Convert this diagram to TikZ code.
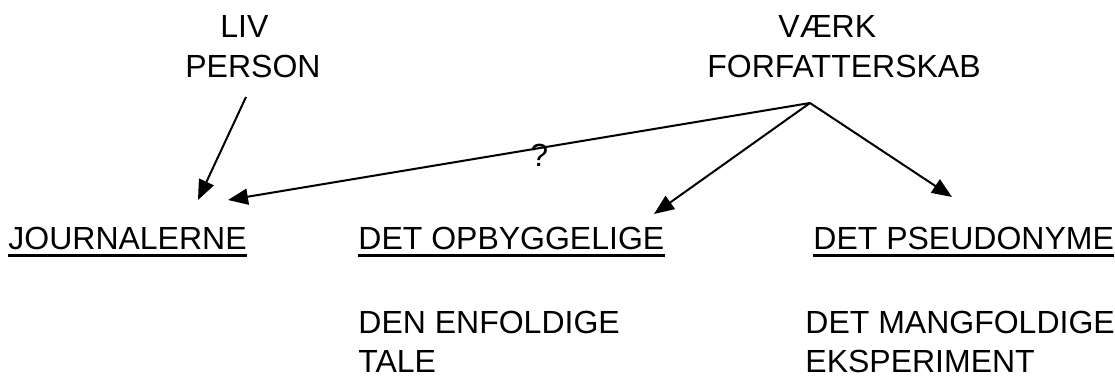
\documentclass[tikz,border=0pt]{standalone}
\usepackage{fontspec}
\setmainfont{Liberation Sans}
\usetikzlibrary{arrows.meta}
\tikzset{
  txt/.style={inner sep=0pt, anchor=base west, font=\fontsize{16}{19}\selectfont, align=left},
  pil/.style={line width=1pt, -{Triangle[length=10pt,width=8pt]}},
  ul/.style={line width=1.4pt}
}
\begin{document}
\begin{tikzpicture}[x=0.5pt,y=-0.5pt]
\useasboundingbox (0,0) rectangle (1115,379);
% top labels
\node[txt] (liv) at (220,38) {LIV};
\node[txt] (person) at (185,78) {PERSON};
\node[txt] (vaerk) at (778,38) {VÆRK};
\node[txt] (forf) at (707,78) {FORFATTERSKAB};
% headings
\node[txt] (jour) at (8,250) {JOURNALERNE};
\node[txt] (opb) at (358,250) {DET OPBYGGELIGE};
\node[txt] (pseu) at (813,250) {DET PSEUDONYME};
\draw[ul] ([yshift=-2.7pt]jour.base west) -- ([yshift=-2.7pt]jour.base east);
\draw[ul] ([yshift=-2.7pt]opb.base west) -- ([yshift=-2.7pt]opb.base east);
\draw[ul] ([yshift=-2.7pt]pseu.base west) -- ([yshift=-2.7pt]pseu.base east);
% sub texts
\node[txt] (enf) at (358,373) {DEN ENFOLDIGE\\[1pt]TALE};
\node[txt] (mang) at (805,373) {DET MANGFOLDIGE\\[1pt]EKSPERIMENT};
% arrows
\coordinate (apex) at (810,103);
\coordinate (top) at (246,97);
\coordinate (jl) at (198,200);
\coordinate (jr) at (228,200);
\coordinate (ob) at (654,214);
\coordinate (ps) at (952,197);
\draw[pil] (top) -- (jl);
\draw[pil] (apex) -- node[pos=0.465, yshift=-3.5pt, inner sep=0pt, font=\fontsize{16}{19}\selectfont] (q) {?} (jr);
\draw[pil] (apex) -- (ob);
\draw[pil] (apex) -- (ps);
\end{tikzpicture}
\end{document}
